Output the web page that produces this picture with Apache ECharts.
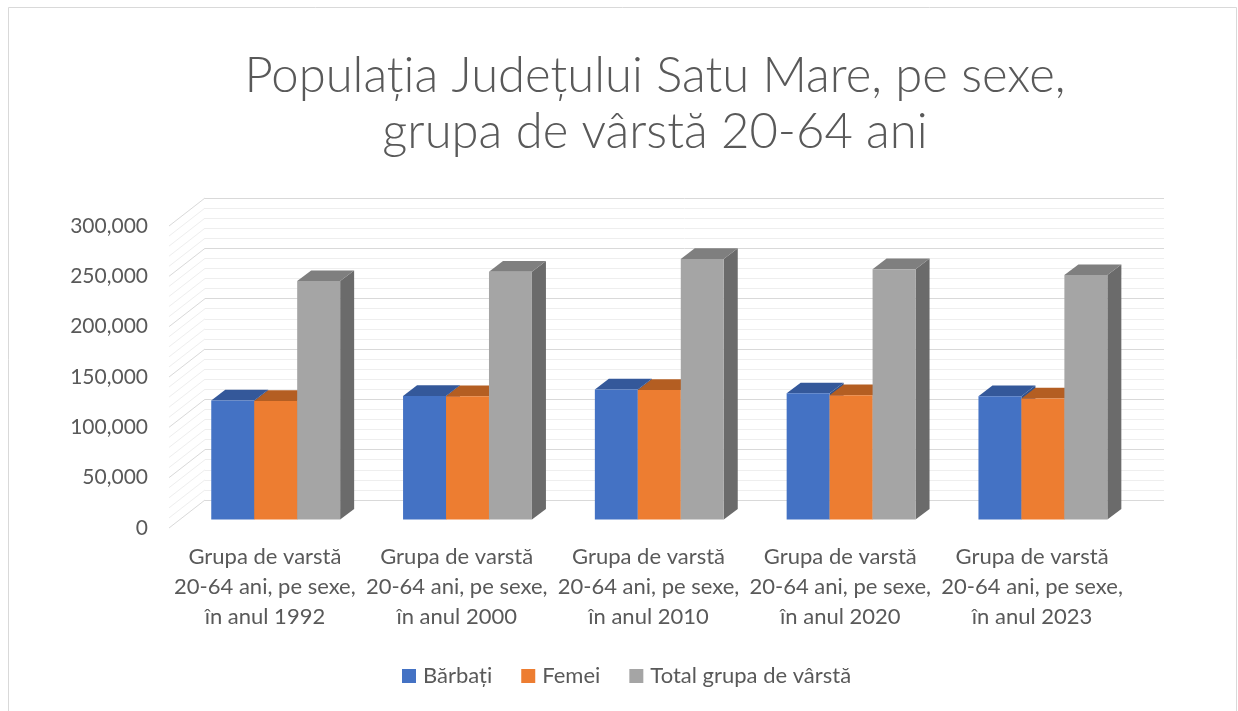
<!DOCTYPE html>
<html>
<head>
<meta charset="utf-8">
<title>Populația Județului Satu Mare</title>
<script src="https://cdn.jsdelivr.net/npm/echarts@6/dist/echarts.min.js"></script>
<style>
  html, body { margin: 0; padding: 0; background: #fff; }
  #chart { width: 1238px; height: 711px; }
</style>
</head>
<body>
<div id="chart"></div>
<script>
// date
const categories = [
  'Grupa de varstă\n20-64 ani, pe sexe,\nîn anul 1992',
  'Grupa de varstă\n20-64 ani, pe sexe,\nîn anul 2000',
  'Grupa de varstă\n20-64 ani, pe sexe,\nîn anul 2010',
  'Grupa de varstă\n20-64 ani, pe sexe,\nîn anul 2020',
  'Grupa de varstă\n20-64 ani, pe sexe,\nîn anul 2023'
];
const seriesNames = ['Bărbați', 'Femei', 'Total grupa de vârstă'];
const barbati = [118300, 122800, 129300, 125400, 122500];
const femei = [117900, 122600, 128700, 123500, 120300];
const total = [236900, 246200, 258800, 248800, 242900];
const yTicks = [0, 50000, 100000, 150000, 200000, 250000, 300000];
const minorSplit = 5;

// culori: fata, capac, lateral
const colors = [
  { front: '#4472C4', top: '#34589A', side: '#2F528F' },
  { front: '#ED7D31', top: '#B45E22', side: '#AE5A21' },
  { front: '#A5A5A5', top: '#7F7F7F', side: '#6B6B6B' }
];

// adancimea peretelui din spate (px)
const DX = 36, DY = -28;
// pozitia barelor in adancime
const BAR_FX = 10.8, BAR_FY = -8.4, BAR_DX = 14, BAR_DY = -10.7;

// liniile oblice de pe peretele lateral
const sideLines = [];
for (let i = 0; i < yTicks.length; i++) {
  sideLines.push([0, yTicks[i], 1]);
  if (i < yTicks.length - 1) {
    const step = (yTicks[i + 1] - yTicks[i]) / minorSplit;
    for (let j = 1; j < minorSplit; j++) sideLines.push([0, yTicks[i] + step * j, 0]);
  }
}

function fmt(v) {
  return String(v).replace(/\B(?=(\d{3})+(?!\d))/g, ',');
}

function renderSide(params, api) {
  const y = api.coord([0, api.value(1)])[1];
  const x = params.coordSys.x;
  const major = api.value(2) === 1;
  return {
    type: 'line',
    shape: { x1: x, y1: y, x2: x + DX, y2: y + DY },
    style: { stroke: major ? '#D9D9D9' : '#EEEEEE', lineWidth: 1 }
  };
}

function makeBarRender(k) {
  return function (params, api) {
    const idx = api.value(0);
    const base = api.coord([idx, 0]);
    const topPt = api.coord([idx, api.value(1)]);
    const band = api.size([1, 0])[0];
    const w = band * 0.224;
    const x0 = base[0] - 1.5 * w + k * w + BAR_FX;
    const yb = base[1] + BAR_FY;
    const yt = topPt[1] + BAR_FY;
    const c = colors[k];
    return {
      type: 'group',
      children: [
        {
          type: 'polygon',
          shape: { points: [[x0 + w, yt], [x0 + w + BAR_DX, yt + BAR_DY], [x0 + w + BAR_DX, yb + BAR_DY], [x0 + w, yb]] },
          style: { fill: c.side }
        },
        {
          type: 'polygon',
          shape: { points: [[x0, yt], [x0 + w, yt], [x0 + w + BAR_DX, yt + BAR_DY], [x0 + BAR_DX, yt + BAR_DY]] },
          style: { fill: c.top }
        },
        {
          type: 'rect',
          shape: { x: x0, y: yt, width: w, height: yb - yt },
          style: { fill: c.front }
        }
      ]
    };
  };
}

const values = [barbati, femei, total];
const barSeries = values.map(function (arr, k) {
  return {
    name: seriesNames[k],
    type: 'custom',
    xAxisIndex: 0,
    yAxisIndex: 0,
    z: 3 + k,
    itemStyle: { color: colors[k].front },
    renderItem: makeBarRender(k),
    encode: { x: 0, y: 1 },
    data: arr.map(function (v, i) { return [i, v]; })
  };
});

const chart = echarts.init(document.getElementById('chart'), null, { renderer: 'canvas' });

const option = {
  backgroundColor: '#fff',
  animation: false,
  textStyle: { fontFamily: 'Lato' },
  title: {
    text: 'Populația Județului Satu Mare, pe sexe,\ngrupa de vârstă 20-64 ani',
    left: 650,
    top: 43,
    textAlign: 'center',
    textStyle: {
      fontFamily: 'Lato',
      fontWeight: 300,
      fontSize: 49,
      lineHeight: 56,
      color: '#595959'
    }
  },
  legend: {
    bottom: 19,
    left: 397,
    icon: 'rect',
    itemWidth: 14,
    itemHeight: 14,
    itemGap: 29,
    textStyle: { fontFamily: 'Lato', fontSize: 22, color: '#595959', padding: [0, 0, 0, 2] },
    data: seriesNames
  },
  grid: [
    { left: 169, top: 226, width: 959, height: 302 },
    { left: 205, top: 198, width: 959, height: 302 }
  ],
  xAxis: [
    {
      gridIndex: 0,
      type: 'category',
      data: categories,
      axisLine: { show: false },
      axisTick: { show: false },
      axisLabel: {
        margin: 14,
        fontFamily: 'Lato',
        fontSize: 22,
        lineHeight: 30,
        color: '#595959',
        interval: 0
      }
    },
    {
      gridIndex: 1,
      type: 'category',
      data: categories,
      show: false
    }
  ],
  yAxis: [
    {
      gridIndex: 0,
      type: 'value',
      min: 0,
      max: 300000,
      interval: 50000,
      axisLine: { show: false },
      axisTick: { show: false },
      splitLine: { show: false },
      axisLabel: {
        margin: 21,
        fontFamily: 'Lato',
        fontSize: 21,
        color: '#595959',
        formatter: fmt
      }
    },
    {
      gridIndex: 1,
      type: 'value',
      min: 0,
      max: 300000,
      interval: 50000,
      axisLine: { show: false },
      axisTick: { show: false },
      axisLabel: { show: false },
      splitLine: { show: true, lineStyle: { color: '#D9D9D9', width: 1 } },
      minorTick: { show: false, splitNumber: minorSplit },
      minorSplitLine: { show: true, lineStyle: { color: '#EEEEEE', width: 1 } }
    }
  ],
  series: [
    {
      type: 'custom',
      name: 'perete',
      xAxisIndex: 0,
      yAxisIndex: 0,
      z: 1,
      silent: true,
      renderItem: renderSide,
      encode: { x: 0, y: 1 },
      data: sideLines
    }
  ].concat(barSeries),
  graphic: [
    {
      type: 'rect',
      shape: { x: 8.5, y: 7.5, width: 1228, height: 720 },
      style: { fill: 'none', stroke: '#D9D9D9', lineWidth: 1 },
      silent: true,
      z: -1
    }
  ]
};

chart.setOption(option);
window.addEventListener('resize', function () {
  chart.resize();
});
</script>
</body>
</html>
